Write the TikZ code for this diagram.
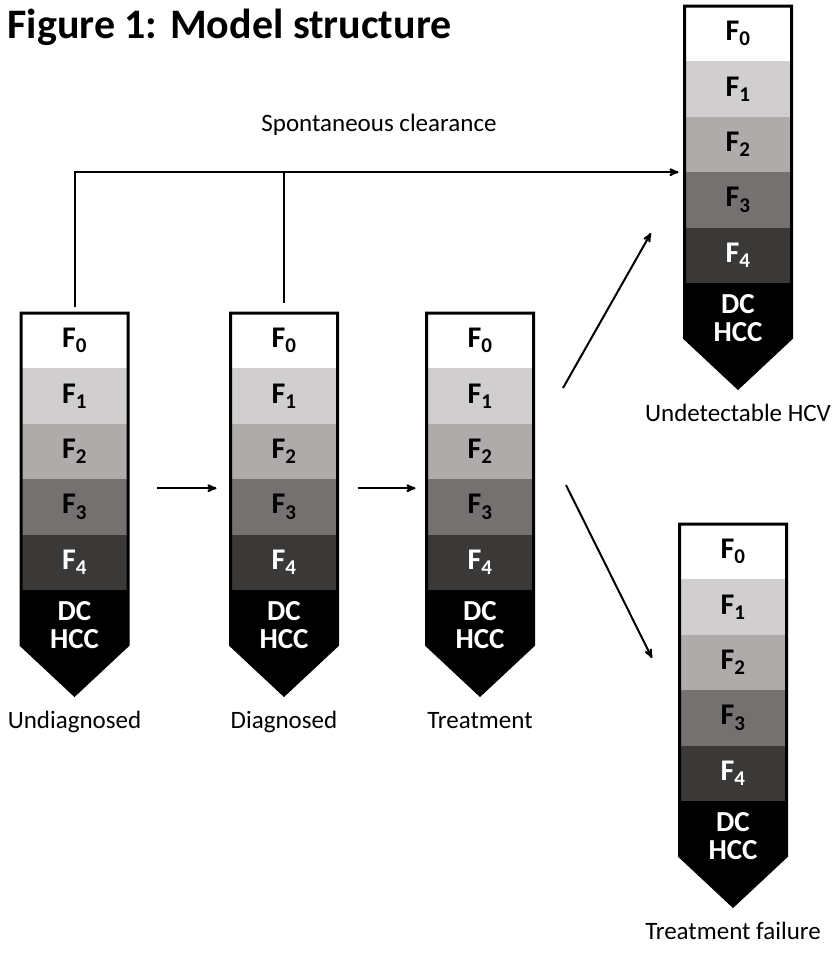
\documentclass[tikz,border=0pt]{standalone}
\usepackage{fontspec}
\setmainfont{Carlito}
\usetikzlibrary{arrows, positioning}
\definecolor{fibone}{RGB}{208,206,207}
\definecolor{fibtwo}{RGB}{175,171,170}
\definecolor{fibthree}{RGB}{117,113,112}
\definecolor{fibfour}{RGB}{59,57,56}
\newcommand{\drawStage}[4]{% name, x, y, label
\node[band, fill=white]    (#1-0) at (#2,#3) [anchor=north] {F\textsubscript{0}};
\node[band, fill=fibone]   (#1-1) [below=0pt of #1-0] {F\textsubscript{1}};
\node[band, fill=fibtwo]   (#1-2) [below=0pt of #1-1] {F\textsubscript{2}};
\node[band, fill=fibthree] (#1-3) [below=0pt of #1-2] {F\textsubscript{3}};
\node[band, fill=fibfour, text=white] (#1-4) [below=0pt of #1-3] {F\textsubscript{4}};
\node[band, fill=black, minimum height=55pt] (#1-5) [below=0pt of #1-4] {};
\coordinate (#1-tip) at ([yshift=-50pt]#1-5.south);
\fill (#1-5.south west) -- (#1-tip) -- (#1-5.south east) -- cycle;
\node[band, text=white, align=center, font=\fontsize{29}{28}\selectfont\bfseries] (#1-dc) at ([yshift=-8pt]#1-5.center) {DC\\HCC};
\draw[outline] (#1-0.north west) -- (#1-0.north east) -- (#1-5.south east) -- (#1-tip) -- (#1-5.south west) -- cycle;
\node[stagelabel, anchor=base] (#1-label) at ([yshift=-33pt]#1-tip) {#4};}
\tikzset{>=stealth',
    band/.style={minimum width=107pt, minimum height=55.4pt, inner sep=0pt, outer sep=0pt,
        font=\fontsize{30}{26}\selectfont\bfseries},
    outline/.style={draw=black, line width=3pt, line join=miter},
    flow/.style={->, line width=2pt},
    stagelabel/.style={font=\fontsize{25}{30}\selectfont},
    title/.style={font=\fontsize{42}{46}\selectfont\bfseries}}

\begin{document}
\begin{tikzpicture}[x=1pt, y=-1pt]
\useasboundingbox (0,0) rectangle (837,959);
\node[title, anchor=base west] (title) at (4,38) {Figure 1: Model structure};
% stages
\drawStage{und}{74.5}{313}{Undiagnosed}
\drawStage{dia}{284}{313}{Diagnosed}
\drawStage{trt}{480}{313}{Treatment}
\drawStage{svr}{738}{6}{Undetectable HCV}
\drawStage{fail}{733}{524}{Treatment failure}
% spontaneous clearance
\draw[flow, shorten <=6pt, shorten >=6pt] (und-0.north) |- (svr-3.north west);
\draw[line width=2pt, shorten <=10pt] (dia-0.north) -- (dia-0.north |- svr-3.north west);
\node[stagelabel] (clear) at (379,125) {Spontaneous clearance};
% progression
\draw[flow] ([xshift=29pt, yshift=-9pt]und-3.north east) -- ([xshift=-14pt, yshift=-9pt]dia-3.north west);
\draw[flow] ([xshift=20pt, yshift=-9pt]dia-3.north east) -- ([xshift=-11pt, yshift=-9pt]trt-3.north west);
\coordinate (up-from) at (563,388);
\coordinate (up-to) at (651,233);
\coordinate (down-from) at (566,485);
\coordinate (down-to) at (652,658);
\draw[flow] (up-from) -- (up-to);
\draw[flow] (down-from) -- (down-to);
\end{tikzpicture}
\end{document}
